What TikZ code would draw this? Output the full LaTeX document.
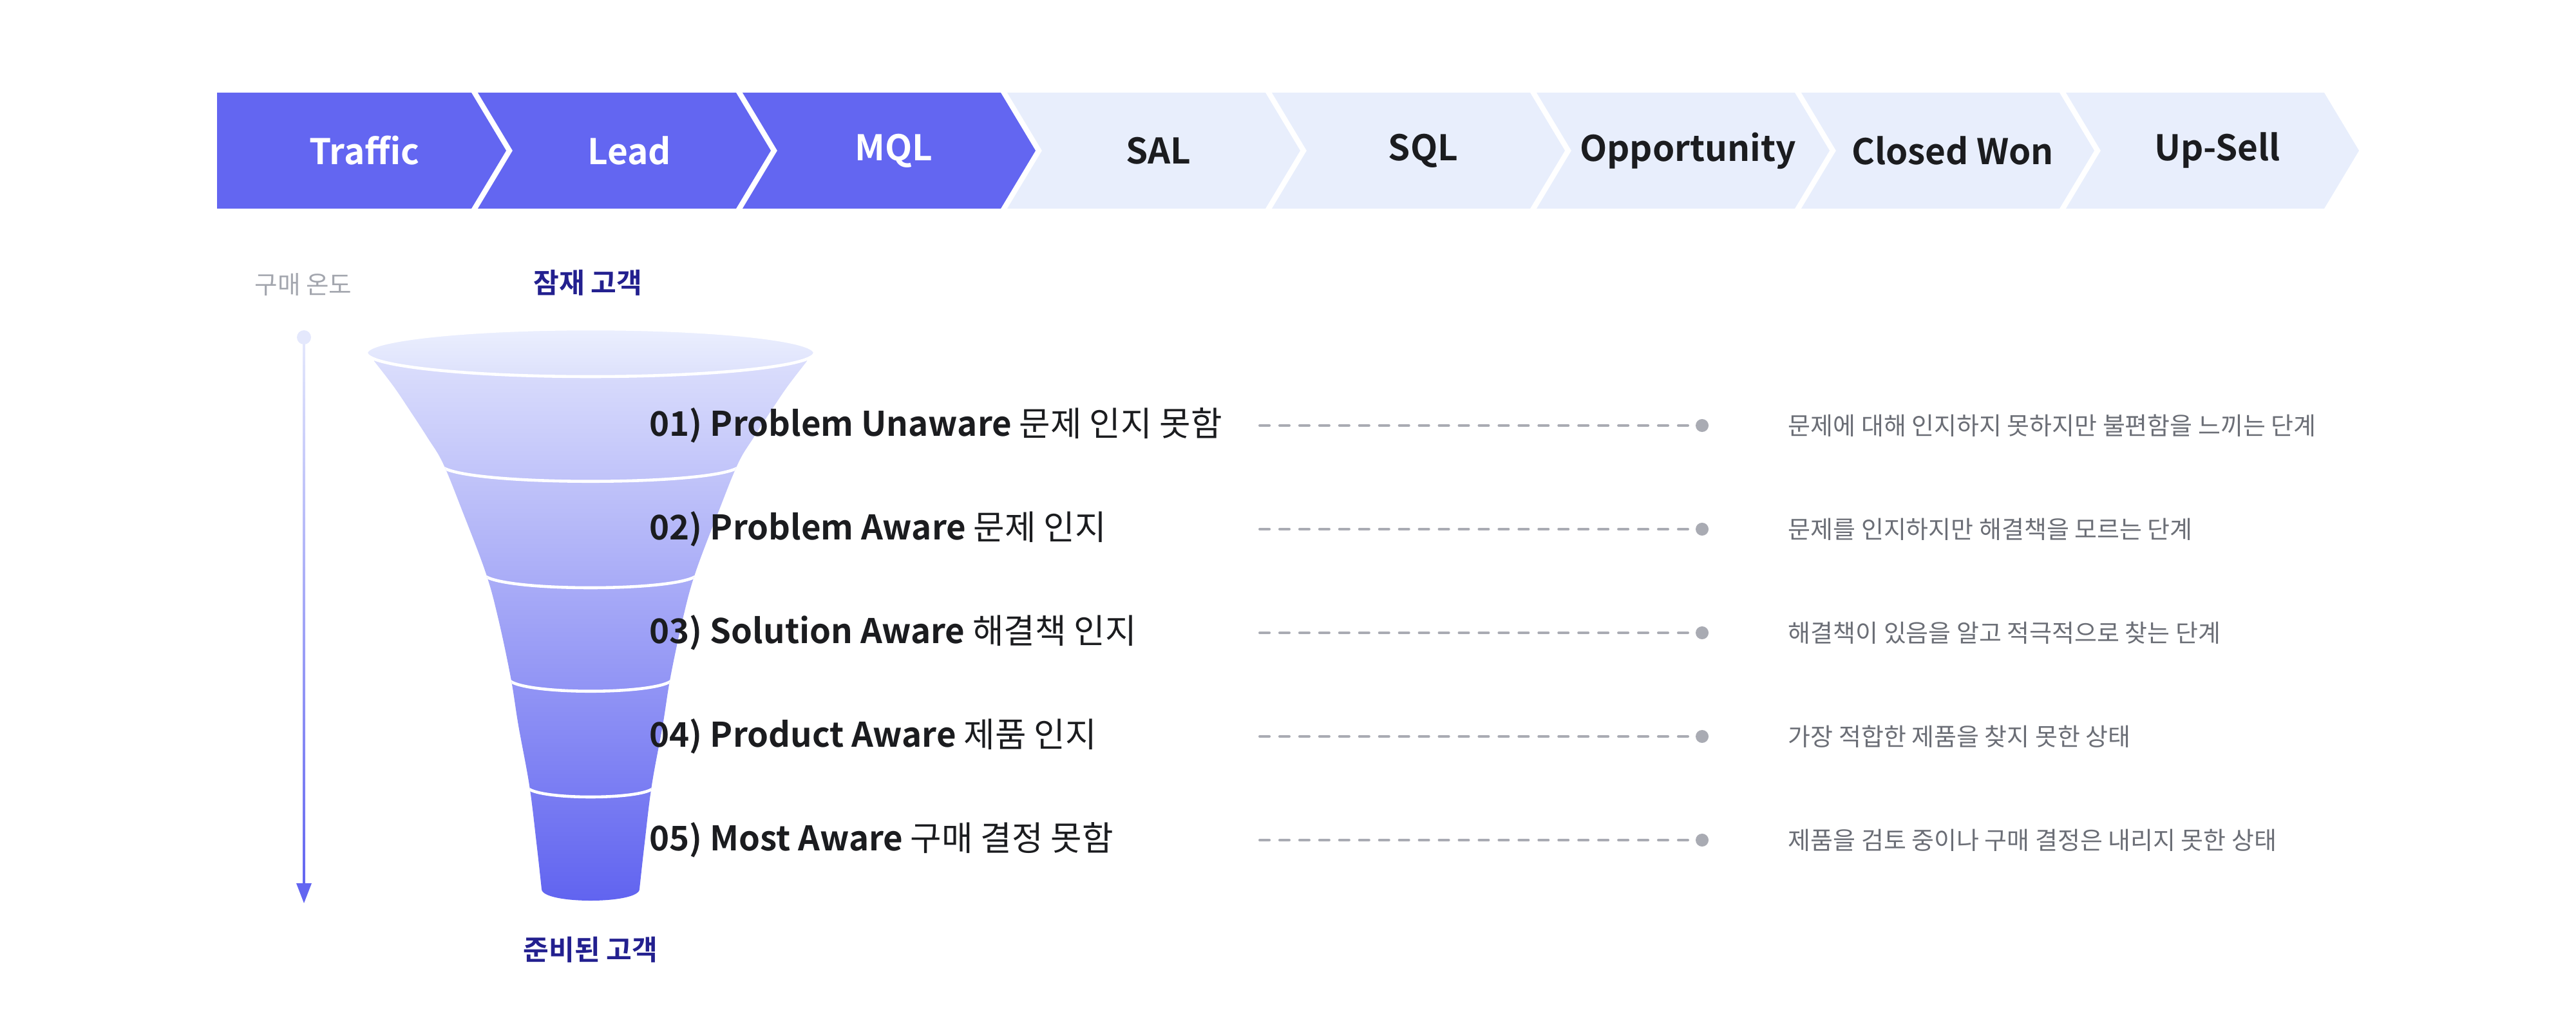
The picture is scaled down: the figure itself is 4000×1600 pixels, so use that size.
\documentclass[tikz,border=0pt]{standalone}
\usepackage{fontspec}
\setmainfont{Noto Sans CJK KR}[BoldFont={Noto Sans CJK KR Bold}]
\usetikzlibrary{shapes.geometric}
\definecolor{indigo}{HTML}{6366F1}
\definecolor{lightchev}{HTML}{E8EEFC}
\definecolor{navy}{HTML}{23208F}
\definecolor{darktext}{HTML}{1B1C1F}
\definecolor{descc}{HTML}{6B6E76}
\definecolor{dashc}{HTML}{A9ABB3}
\definecolor{tempc}{HTML}{A3A6AE}
\definecolor{funtop}{HTML}{DCDFFC}
\definecolor{funbot}{HTML}{6063F0}
\definecolor{elltop}{HTML}{EBEFFE}
\definecolor{ellbot}{HTML}{DDE1FC}
\definecolor{arrtop}{HTML}{E4E8FC}
\tikzset{
 chevtext/.style={font=\bfseries\fontsize{15.6}{19}\selectfont, inner sep=0pt},
 rowlabel/.style={anchor=west, inner sep=0pt, text=darktext, font=\fontsize{15}{18}\selectfont},
 desctext/.style={anchor=west, inner sep=0pt, text=descc, font=\fontsize{10.8}{13}\selectfont},
 dotnode/.style={circle, fill=dashc, inner sep=0pt, minimum size=5.7pt},
 dashline/.style={draw=dashc, line width=1.1pt, line cap=round, dash pattern=on 4.3pt off 4.5pt},
 sepline/.style={draw=white, line width=1.3pt},
 headtext/.style={font=\bfseries\fontsize{12.3}{14}\selectfont, text=navy, inner sep=0pt},
}
\def\funnelpath{(581,552) -- (1253,552) -- plot[smooth, tension=0.6] coordinates {(1253,561) (1223,600) (1198,637) (1170,680) (1146,720) (1116,794) (1080,889) (1061,958) (1041,1052) (1029,1127) (1012,1220) (1001,1309) (993,1381)} .. controls (993,1405) and (841,1405) .. (841,1381) -- plot[smooth, tension=0.6] coordinates {(841,1381) (833,1309) (822,1220) (805,1127) (793,1052) (773,958) (754,889) (718,794) (688,720) (664,680) (636,637) (611,600) (581,561)} -- cycle}
\begin{document}
\begin{tikzpicture}[x=0.01cm,y=-0.01cm]
\useasboundingbox (0,0) rectangle (4000,1600);
% chevrons
\foreach \i/\lab/\fc/\tc in {0/Traffic/indigo/white,1/Lead/indigo/white,2/MQL/indigo/white,3/SAL/lightchev/darktext,4/SQL/lightchev/darktext,5/Opportunity/lightchev/darktext,6/Closed Won/lightchev/darktext,7/Up-Sell/lightchev/darktext}{
  \pgfmathsetmacro\tip{786+411*\i}
  \pgfmathsetmacro\prev{786+411*(\i-1)}
  \ifnum\i=0
    \fill[\fc] (337,144) -- (\tip-54,144) -- (\tip,234) -- (\tip-54,324) -- (337,324) -- cycle;
  \else
    \fill[\fc] (\prev-44,144) -- (\tip-54,144) -- (\tip,234) -- (\tip-54,324) -- (\prev-44,324) -- (\prev+10,234) -- cycle;
  \fi
  \node[chevtext, text=\tc] (c\i) at (\tip-220,234) {\lab};
}
% temperature arrow
\coordinate (tstart) at (472,524);
\coordinate (tend) at (472,1403);
\shade[top color=arrtop, bottom color=indigo] (470.3,524) rectangle (473.7,1375);
\fill[arrtop] (tstart) circle[radius=11];
\fill[indigo] (460,1372) -- (484,1372) -- (tend) -- cycle;
\node[text=tempc, font=\fontsize{11}{13}\selectfont, inner sep=0pt] (temp) at (471,442) {구매 온도};
% headings
\node[headtext] (pot) at (913,439) {잠재 고객};
\node[headtext] (ready) at (917,1475) {준비된 고객};
% funnel
\shade[top color=funtop, bottom color=funbot] \funnelpath;
\begin{scope}
\clip \funnelpath;
\draw[sepline] (683,720) .. controls (683,757) and (1151,757) .. (1151,720);
\draw[sepline] (749,889) .. controls (749,921) and (1085,921) .. (1085,889);
\draw[sepline] (788,1052) .. controls (788,1081) and (1046,1081) .. (1046,1052);
\draw[sepline] (817,1220) .. controls (817,1244) and (1017,1244) .. (1017,1220);
\end{scope}
\draw[white, line width=1.3pt, top color=elltop, bottom color=ellbot] (917,548) ellipse [x radius=348, y radius=37];
% rows
\foreach \i/\en/\ko/\desc in {1/01) Problem Unaware/문제 인지 못함/문제에 대해 인지하지 못하지만 불편함을 느끼는 단계,2/02) Problem Aware/문제 인지/문제를 인지하지만 해결책을 모르는 단계,3/03) Solution Aware/해결책 인지/해결책이 있음을 알고 적극적으로 찾는 단계,4/04) Product Aware/제품 인지/가장 적합한 제품을 찾지 못한 상태,5/05) Most Aware/구매 결정 못함/제품을 검토 중이나 구매 결정은 내리지 못한 상태}{
  \pgfmathsetmacro\yy{661+161*(\i-1)}
  \node[rowlabel] (r\i) at (1008,\yy) {{\bfseries \en} \ko};
  \coordinate (ds\i) at (1956,\yy);
  \node[dotnode] (dot\i) at (2643,\yy) {};
  \draw[dashline] (ds\i) -- (dot\i);
  \node[desctext] (d\i) at (2776,\yy) {\desc};
}
\end{tikzpicture}
\end{document}
